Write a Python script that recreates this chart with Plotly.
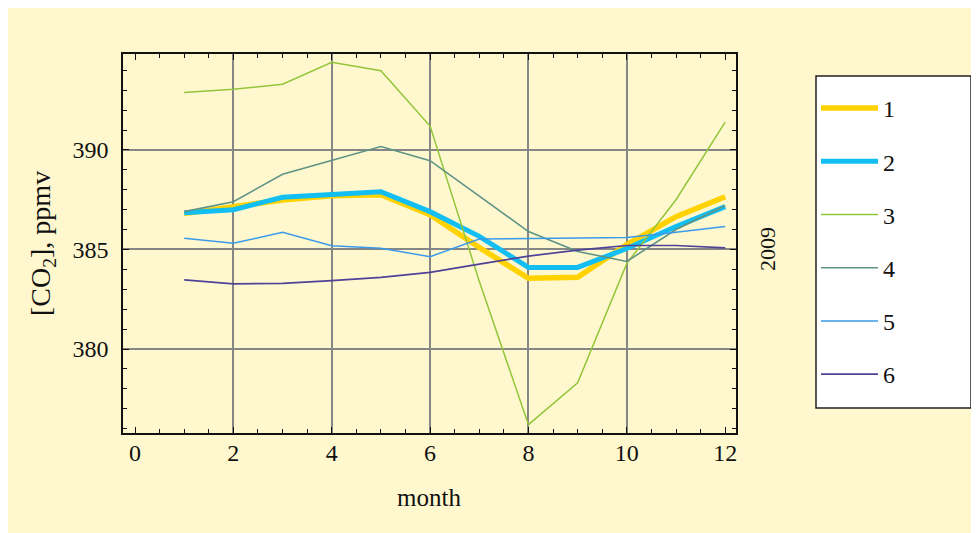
import plotly.graph_objects as go

months = list(range(1, 13))
series_names = ["1", "2", "3", "4", "5", "6"]
s1 = [386.8, 387.15, 387.49, 387.7, 387.75, 386.75, 385.1, 383.55, 383.6, 385.25, 386.65, 387.65]
s2 = [386.85, 387.0, 387.62, 387.79, 387.9, 386.9, 385.66, 384.1, 384.1, 385.05, 386.15, 387.15]
s3 = [392.88, 393.05, 393.3, 394.4, 393.98, 391.2, 383.4, 376.2, 378.3, 384.3, 387.5, 391.4]
s4 = [386.9, 387.4, 388.78, 389.46, 390.17, 389.46, 387.7, 385.9, 384.9, 384.4, 386.0, 387.2]
s5 = [385.56, 385.31, 385.86, 385.19, 385.06, 384.64, 385.53, 385.56, 385.56, 385.6, 385.86, 386.15]
s6 = [383.47, 383.27, 383.3, 383.43, 383.6, 383.85, 384.26, 384.67, 384.97, 385.2, 385.2, 385.08]
all_series = [s1, s2, s3, s4, s5, s6]

x_ticks = [0, 2, 4, 6, 8, 10, 12]
x_grid = [2, 4, 6, 8, 10]
y_ticks = [380, 385, 390]

colors = ["#FFD200", "#12BEF2", "#92C639", "#5F9385", "#3B99EA", "#4F4297"]
widths = [5.5, 5, 1.5, 1.6, 1.5, 1.7]

FONT = "Liberation Serif, Times New Roman, serif"
FS = 24
BG = "#FFF8CF"
TXT = "#111111"
GRID = "#868686"

# the page body has an 8px margin; work in screen pixels and shift
OFF = 8
W, H = 979 - OFF, 533 - OFF
PL, PR, PT, PB = 123, 736, 54, 433  # plot frame in screen pixels
L, T = PL - OFF, PT - OFF
R, B = W - (PR - OFF), H - (PB - OFF)
pw, ph = W - L - R, H - T - B


def px(xs):
    return (xs - OFF - L) / pw


def py(ys):
    return (H - B - (ys - OFF)) / ph


fig = go.Figure()
# empty helper trace so the grid-only overlay axis gets drawn
fig.add_trace(go.Scatter(x=[], y=[], xaxis="x2", yaxis="y", showlegend=False,
                         hoverinfo="skip", mode="lines"))
for name, ys, c, w in zip(series_names, all_series, colors, widths):
    fig.add_trace(go.Scatter(x=months, y=ys, mode="lines", name=name,
                             legendgroup=name,
                             line=dict(color=c, width=w)))

fig.update_layout(
    width=W, height=H,
    margin=dict(l=L, r=R, t=T, b=B, pad=0),
    paper_bgcolor=BG,
    plot_bgcolor=BG,
    font=dict(family=FONT, size=FS, color=TXT),
    showlegend=True,
    legend=dict(
        x=px(816), y=py(86), xanchor="left", yanchor="top",
        bgcolor="rgba(0,0,0,0)", borderwidth=0,
        traceorder="grouped", tracegroupgap=19,
        itemwidth=57,
        font=dict(family=FONT, size=FS, color=TXT),
    ),
    xaxis=dict(
        range=[-0.244, 12.22], tickvals=x_ticks, ticktext=[str(v) for v in x_ticks],
        showgrid=False, zeroline=False,
        showline=True, linecolor="#111111", linewidth=1.6, mirror="ticks",
        ticks="inside", ticklen=6, tickwidth=1.3, tickcolor="#111111",
        minor=dict(dtick=0.5, tick0=0, ticks="inside", ticklen=4, tickwidth=1, tickcolor="#111111"),
        ticklabelstandoff=-3,
        tickfont=dict(family=FONT, size=FS, color=TXT),
    ),
    xaxis2=dict(
        range=[-0.244, 12.22], overlaying="x", anchor="y", side="bottom",
        tickvals=x_grid, showticklabels=False, ticks="",
        showgrid=True, gridcolor=GRID, gridwidth=1.5, zeroline=False, showline=False,
    ),
    yaxis=dict(
        range=[375.78, 394.82], tickvals=y_ticks,
        showgrid=True, gridcolor=GRID, gridwidth=1.5, zeroline=False,
        showline=True, linecolor="#111111", linewidth=1.6, mirror="ticks",
        ticks="inside", ticklen=6, tickwidth=1.3, tickcolor="#111111",
        minor=dict(dtick=1, tick0=375, ticks="inside", ticklen=4, tickwidth=1, tickcolor="#111111"),
        ticklabelstandoff=8,
        tickfont=dict(family=FONT, size=FS, color=TXT),
    ),
    shapes=[
        dict(type="rect", xref="paper", yref="paper", layer="above",
             x0=px(816), x1=px(971), y0=py(408), y1=py(76),
             fillcolor="white", line=dict(color="#222222", width=1.5)),
    ],
    annotations=[
        dict(text="[CO<sub>2</sub>], ppmv", xref="paper", yref="paper",
             x=px(42), y=py(244), textangle=-90, showarrow=False,
             xanchor="center", yanchor="middle",
             font=dict(family=FONT, size=28, color=TXT)),
        dict(text="month", xref="paper", yref="paper",
             x=px(429), y=py(497), showarrow=False,
             xanchor="center", yanchor="middle",
             font=dict(family=FONT, size=25, color=TXT)),
        dict(text="2009", xref="paper", yref="paper",
             x=px(767), y=py(249), textangle=-90, showarrow=False,
             xanchor="center", yanchor="middle",
             font=dict(family=FONT, size=22, color=TXT)),
    ],
)

fig.write_html("out.html")
